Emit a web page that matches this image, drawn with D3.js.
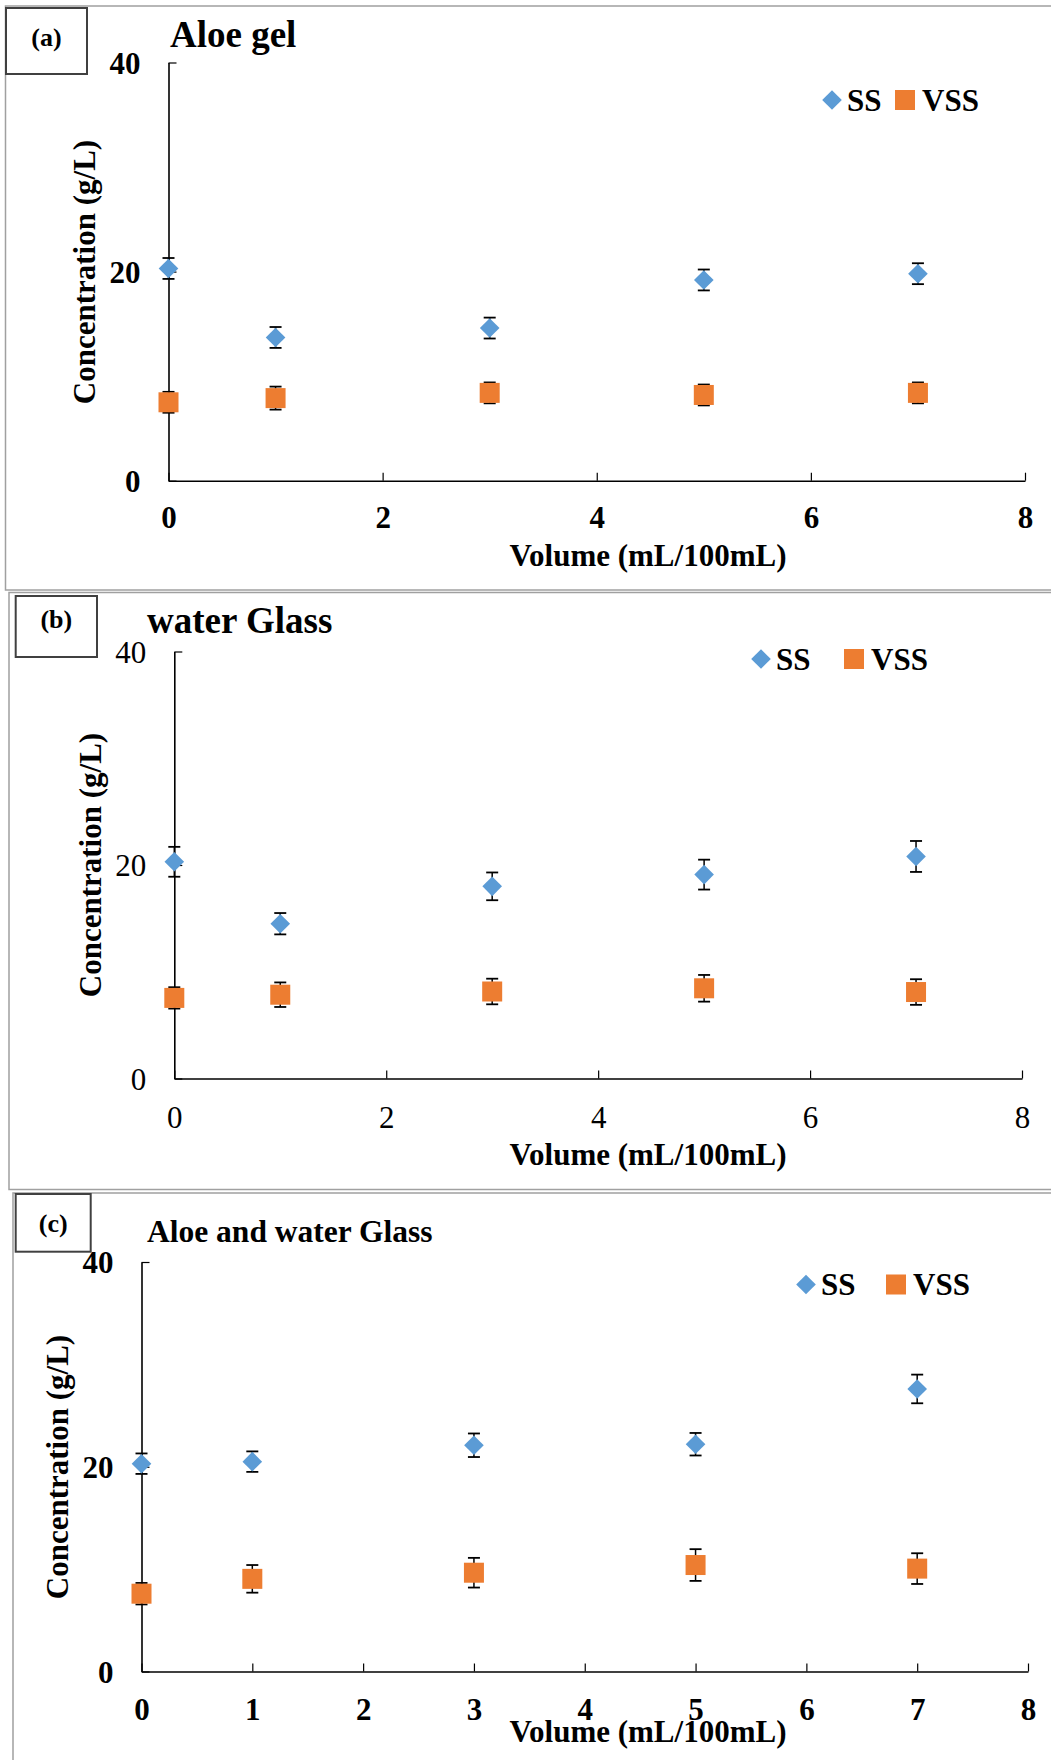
<!DOCTYPE html>
<html>
<head>
<meta charset="utf-8">
<script src="https://cdn.jsdelivr.net/npm/d3@7"></script>
<style>
  body { margin: 0; background: #fff; }
  svg { display: block; }
  svg text { font-family: "Liberation Serif", "Times New Roman", serif; }
</style>
</head>
<body>
<svg width="1051" height="1760"></svg>
<script>
// data
var volumes = [0, 1, 3, 5, 7];

var ssAloe = [20.3, 13.7, 14.6, 19.2, 19.8];
var ssAloeErr = [1.0, 1.0, 1.0, 1.0, 1.0];
var vssAloe = [7.5, 7.9, 8.4, 8.2, 8.4];
var vssAloeErr = [1.0, 1.1, 1.0, 1.0, 1.0];

var ssGlass = [20.3, 14.5, 18.0, 19.1, 20.8];
var ssGlassErr = [1.4, 1.0, 1.3, 1.4, 1.45];
var vssGlass = [7.55, 7.85, 8.15, 8.45, 8.1];
var vssGlassErr = [1.0, 1.15, 1.2, 1.25, 1.2];

var ssBoth = [20.3, 20.5, 22.1, 22.2, 27.6];
var ssBothErr = [1.0, 1.0, 1.15, 1.1, 1.4];
var vssBoth = [7.6, 9.05, 9.65, 10.4, 10.05];
var vssBothErr = [1.05, 1.35, 1.45, 1.55, 1.5];

var yTicks = [0, 20, 40];
var xTicksEven = [0, 2, 4, 6, 8];
var xTicksAll = [0, 1, 2, 3, 4, 5, 6, 7, 8];

var seriesNames = ['SS', 'VSS'];
var colors = {SS: '#5B9BD5', VSS: '#ED7D31'};

var serif = '"Liberation Serif", "Times New Roman", serif';
var svg = d3.select('svg');

var panels = [
  {
    label: '(a)', title: 'Aloe gel', titleX: 170, titleY: 47, titleSize: 37,
    frame: {x: 5.5, y: 6, w: 1060, h: 584}, box: {x: 6, y: 8, w: 81, h: 66}, labelY: 37,
    x0: 168.5, x1: 1025, y0: 480.7, y1: 62.5, xTicks: xTicksEven, boldTicks: true,
    yTitle: {x: 84, y: 272}, xTitleY: 555, xLabelY: 517.5,
    legend: {x: 832, y: 100, gap: 73},
    ss: ssAloe, ssErr: ssAloeErr, vss: vssAloe, vssErr: vssAloeErr
  },
  {
    label: '(b)', title: 'water Glass', titleX: 147, titleY: 633, titleSize: 37,
    frame: {x: 9, y: 592.5, w: 1060, h: 597}, box: {x: 15.7, y: 596, w: 81.3, h: 61}, labelY: 619,
    x0: 174.3, x1: 1022, y0: 1078.5, y1: 651.5, xTicks: xTicksEven, boldTicks: false,
    yTitle: {x: 90.5, y: 865}, xTitleY: 1154, xLabelY: 1117,
    legend: {x: 761, y: 659, gap: 93},
    ss: ssGlass, ssErr: ssGlassErr, vss: vssGlass, vssErr: vssGlassErr
  },
  {
    label: '(c)', title: 'Aloe and water Glass', titleX: 147, titleY: 1242, titleSize: 31.5,
    frame: {x: 13, y: 1193, w: 1060, h: 600}, box: {x: 15.7, y: 1194, w: 75, h: 57.7}, labelY: 1223,
    x0: 141.5, x1: 1028, y0: 1671.5, y1: 1262, xTicks: xTicksAll, boldTicks: true,
    yTitle: {x: 57, y: 1467}, xTitleY: 1731, xLabelY: 1709,
    legend: {x: 806, y: 1284.5, gap: 90},
    ss: ssBoth, ssErr: ssBothErr, vss: vssBoth, vssErr: vssBothErr
  }
];

function diamond(cx, cy, r) {
  return 'M' + cx + ',' + (cy - r) + 'L' + (cx + r) + ',' + cy +
    'L' + cx + ',' + (cy + r) + 'L' + (cx - r) + ',' + cy + 'Z';
}

panels.forEach(function(p) {

  // outer frame and letter box
  svg.append('rect')
    .attr('x', p.frame.x).attr('y', p.frame.y)
    .attr('width', p.frame.w).attr('height', p.frame.h)
    .attr('fill', 'none').attr('stroke', '#a0a0a0').attr('stroke-width', 1.5);

  svg.append('rect')
    .attr('x', p.box.x).attr('y', p.box.y)
    .attr('width', p.box.w).attr('height', p.box.h)
    .attr('fill', '#fff').attr('stroke', '#404040').attr('stroke-width', 2);

  svg.append('text')
    .attr('x', p.box.x + p.box.w / 2).attr('y', p.labelY)
    .attr('dy', '0.35em')
    .attr('text-anchor', 'middle')
    .style('font-family', serif)
    .style('font-size', '26px').style('font-weight', 'bold')
    .text(p.label);

  svg.append('text')
    .attr('x', p.titleX).attr('y', p.titleY)
    .style('font-family', serif)
    .style('font-size', p.titleSize + 'px').style('font-weight', 'bold')
    .text(p.title);

  var x = d3.scaleLinear().domain([0, 8]).range([p.x0, p.x1]);
  var y = d3.scaleLinear().domain([0, 40]).range([p.y0, p.y1]);

  var tickWeight = p.boldTicks ? 'bold' : 'normal';

  var gy = svg.append('g')
    .attr('transform', 'translate(' + p.x0 + ',0)')
    .call(d3.axisLeft(y).tickValues(yTicks).tickSizeInner(-8).tickSizeOuter(0).tickPadding(28));

  var gx = svg.append('g')
    .attr('transform', 'translate(0,' + p.y0 + ')')
    .call(d3.axisBottom(x).tickValues(p.xTicks).tickSizeInner(-8).tickSizeOuter(0));

  [gx, gy].forEach(function(g) {
    g.attr('font-family', serif);
    g.select('.domain').attr('stroke', '#000').attr('stroke-width', 1.6);
    g.selectAll('.tick line').attr('stroke', '#000').attr('stroke-width', 1.2);
    g.selectAll('.tick text')
      .attr('fill', '#000')
      .style('font-family', serif)
      .style('font-size', '31px')
      .style('font-weight', tickWeight);
  });
  gy.selectAll('.tick text').attr('dy', '0.34em');
  gx.selectAll('.tick text').attr('y', p.xLabelY - p.y0).attr('dy', '0.34em');

  // axis titles
  svg.append('text')
    .attr('transform', 'translate(' + p.yTitle.x + ',' + p.yTitle.y + ') rotate(-90)')
    .attr('text-anchor', 'middle').attr('dy', '0.35em')
    .style('font-family', serif)
    .style('font-size', '31px').style('font-weight', 'bold')
    .text('Concentration (g/L)');

  svg.append('text')
    .attr('x', 648).attr('y', p.xTitleY)
    .attr('text-anchor', 'middle').attr('dy', '0.35em')
    .style('font-family', serif)
    .style('font-size', '31px').style('font-weight', 'bold')
    .text('Volume (mL/100mL)');

  // points with error bars
  var rows = volumes.map(function(v, i) {
    return [
      {name: 'SS', v: v, c: p.ss[i], e: p.ssErr[i]},
      {name: 'VSS', v: v, c: p.vss[i], e: p.vssErr[i]}
    ];
  }).flat();

  var g = svg.append('g');

  g.selectAll('line.err')
    .data(rows).enter().append('line')
    .attr('x1', function(d) { return x(d.v); })
    .attr('x2', function(d) { return x(d.v); })
    .attr('y1', function(d) { return y(d.c - d.e); })
    .attr('y2', function(d) { return y(d.c + d.e); })
    .attr('stroke', '#000').attr('stroke-width', 1.5);

  [-1, 1].forEach(function(s) {
    g.selectAll('line.cap' + (s > 0 ? 'hi' : 'lo'))
      .data(rows).enter().append('line')
      .attr('x1', function(d) { return x(d.v) - 6; })
      .attr('x2', function(d) { return x(d.v) + 6; })
      .attr('y1', function(d) { return y(d.c + s * d.e); })
      .attr('y2', function(d) { return y(d.c + s * d.e); })
      .attr('stroke', '#000').attr('stroke-width', 1.8);
  });

  g.selectAll('path.ss')
    .data(rows.filter(function(d) { return d.name === 'SS'; }))
    .enter().append('path')
    .attr('d', function(d) { return diamond(x(d.v), y(d.c), 9.8); })
    .attr('fill', colors.SS);

  g.selectAll('rect.vss')
    .data(rows.filter(function(d) { return d.name === 'VSS'; }))
    .enter().append('rect')
    .attr('x', function(d) { return x(d.v) - 10; })
    .attr('y', function(d) { return y(d.c) - 10; })
    .attr('width', 20).attr('height', 20)
    .attr('fill', colors.VSS);

  // legend
  var lg = svg.append('g').attr('transform', 'translate(' + p.legend.x + ',' + p.legend.y + ')');
  lg.append('path').attr('d', diamond(0, 0, 9.8)).attr('fill', colors.SS);
  lg.append('text').attr('x', 15).attr('y', 0).attr('dy', '0.34em')
    .style('font-family', serif)
    .style('font-size', '31px').style('font-weight', 'bold').text(seriesNames[0]);
  lg.append('rect').attr('x', p.legend.gap - 10).attr('y', -10)
    .attr('width', 20).attr('height', 20).attr('fill', colors.VSS);
  lg.append('text').attr('x', p.legend.gap + 17).attr('y', 0).attr('dy', '0.34em')
    .style('font-family', serif)
    .style('font-size', '31px').style('font-weight', 'bold').text(seriesNames[1]);
});
</script>
</body>
</html>
